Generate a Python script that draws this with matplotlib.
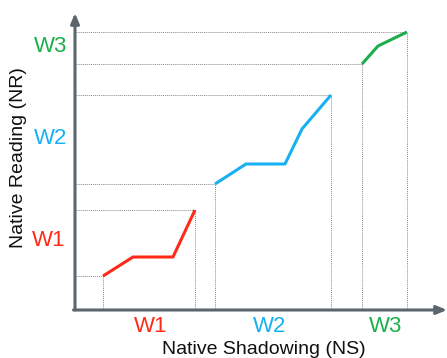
import matplotlib
matplotlib.use("Agg")
import matplotlib.pyplot as plt

plt.rcParams["font.family"] = ["Liberation Sans", "DejaVu Sans"]

RED = "#ff2a17"
BLUE = "#17b0f2"
GREEN = "#1cae4c"
AXIS = "#5b656e"
DOT = "#8a8a8a"

# window curves: (native shadowing, native reading)
w1_ns = [2.8, 5.8, 9.8, 12.0]
w1_nr = [3.4, 5.3, 5.3, 10.0]
w2_ns = [14.0, 17.1, 21.0, 22.7, 25.6]
w2_nr = [12.6, 14.6, 14.6, 18.1, 21.5]
w3_ns = [28.7, 30.3, 33.2]
w3_nr = [24.6, 26.4, 27.8]
labels = ["W1", "W2", "W3"]

W, H = 447, 358
fig = plt.figure(figsize=(W / 100, H / 100), dpi=100)


def px(x, y):
    return x / W, 1 - y / H


ax = fig.add_axes([75 / W, 48 / H, (W - 75) / W, (310 - 13) / H])
ax.set_xlim(0, 37.2)
ax.set_ylim(0, 29.7)
ax.axis("off")

series = [(w1_ns, w1_nr, RED), (w2_ns, w2_nr, BLUE), (w3_ns, w3_nr, GREEN)]
for xs, ys, c in series:
    for x, y in [(xs[0], ys[0]), (xs[-1], ys[-1])]:
        ax.plot([0, x], [y, y], ls=(0, (1, 1)), color=DOT, lw=0.7, zorder=1)
        ax.plot([x, x], [0, y], ls=(0, (1, 1)), color=DOT, lw=0.7, zorder=1)
    ax.plot(xs, ys, color=c, lw=2.2, solid_capstyle="butt", zorder=3)

# axes arrows
arr = dict(arrowstyle="-|>,head_length=0.6,head_width=0.25", lw=2.2,
           color=AXIS, shrinkA=0, shrinkB=0)
ax.annotate("", xy=(0, 1.0), xytext=(0, 0), xycoords="axes fraction",
            textcoords="axes fraction", arrowprops=arr, zorder=5)
ax.annotate("", xy=(1.0, 0), xytext=(-0.004, 0), xycoords="axes fraction",
            textcoords="axes fraction", arrowprops=arr, zorder=5)

cols = [RED, BLUE, GREEN]
ylab_pos = [(49, 240), (51, 138), (51, 47)]
xlab_pos = [(151, 326), (270, 326), (386, 326)]
for lab, c, (yx, yy), (xx, xy) in zip(labels, cols, ylab_pos, xlab_pos):
    fig.text(*px(yx, yy), lab, color=c, fontsize=16, ha="center", va="center")
    fig.text(*px(xx, xy), lab, color=c, fontsize=16, ha="center", va="center")

fig.text(*px(264, 341), "Native Shadowing (NS)", fontsize=14,
         ha="center", va="top", color="#111111")
fig.text(*px(19, 158), "Native Reading (NR)", fontsize=14, rotation=90,
         ha="center", va="center", color="#111111")

fig.savefig("out.png", dpi=100)
